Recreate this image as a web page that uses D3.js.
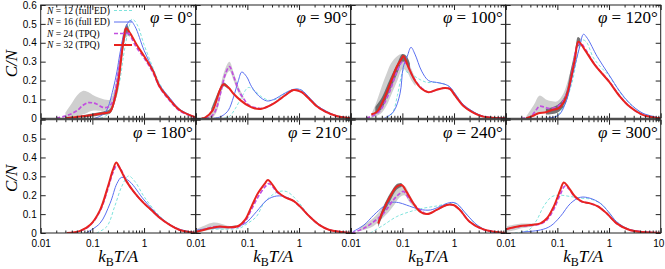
<!DOCTYPE html>
<html>
<head>
<meta charset="utf-8">
<script src="https://cdn.jsdelivr.net/npm/d3@7"></script>
<style>
    body { margin: 0; background: #fff; }
    svg { display: block; }
    .tick text { font-family: "Liberation Sans", Arial, sans-serif; font-size: 10px; fill: #000; }
    .tick line { stroke: #222; }
</style>
</head>
<body>
<div class="chart"></div>
<script>
// Data: one entry per panel (phi = 0, 90, 100, 120, 180, 210, 240, 300 deg).
// Curves are [T, C/N] pairs, bands are [T, low, high].
const phiLabels = ['0', '90', '100', '120', '180', '210', '240', '300'];
const xMajorTicks = [0.01, 0.1, 1, 10];
const yTickValues = [0, 0.1, 0.2, 0.3, 0.4, 0.5, 0.6];
const legendSizes = ['12', '16', '24', '32'];
const legendKinds = ['(full ED)', '(full ED)', '(TPQ)', '(TPQ)'];

const n12 = [
    [[0.14,0],[0.18,0.012],[0.22,0.035],[0.26,0.08],[0.3,0.13],[0.35,0.22],[0.4,0.33],[0.45,0.41],[0.5,0.47],[0.59,0.526],[0.74,0.495],[1,0.39],[1.5,0.265],[2,0.185],[3,0.108],[5,0.046],[10,0.005]],
    [[0.035,0],[0.045,0.01],[0.058,0.05],[0.078,0.113],[0.104,0.163],[0.14,0.145],[0.19,0.113],[0.27,0.095],[0.4,0.106],[0.54,0.134],[0.81,0.154],[1.1,0.15],[1.67,0.103],[2.2,0.069],[3.3,0.039],[5.5,0.012],[10,0.001]],
    [[0.05,0],[0.065,0.03],[0.08,0.12],[0.095,0.22],[0.105,0.256],[0.13,0.24],[0.16,0.228],[0.22,0.205],[0.3,0.19],[0.46,0.19],[0.67,0.18],[0.83,0.166],[1.05,0.13],[1.5,0.074],[2.3,0.037],[3.7,0.011],[10,0]],
    [[0.07,0],[0.1,0.015],[0.13,0.06],[0.19,0.184],[0.25,0.343],[0.3,0.415],[0.36,0.406],[0.5,0.32],[0.7,0.27],[1,0.225],[1.63,0.138],[2.5,0.078],[4.5,0.026],[10,0.001]],
    [[0.12,0],[0.19,0.034],[0.27,0.14],[0.37,0.246],[0.5,0.302],[0.67,0.272],[1,0.193],[2,0.09],[3.2,0.045],[4.9,0.018],[10,0]],
    [[0.01,0.01],[0.02,0.02],[0.04,0.02],[0.07,0.025],[0.1,0.05],[0.15,0.087],[0.2,0.15],[0.27,0.19],[0.4,0.219],[0.58,0.219],[0.9,0.175],[1.6,0.09],[2.5,0.045],[3.9,0.017],[10,0]],
    [[0.024,0],[0.043,0.042],[0.078,0.087],[0.14,0.113],[0.25,0.131],[0.46,0.143],[0.83,0.157],[1.1,0.155],[1.8,0.095],[2.8,0.042],[5,0.007],[10,0]],
    [[0.015,0],[0.028,0.016],[0.04,0.069],[0.054,0.14],[0.079,0.193],[0.115,0.2],[0.18,0.193],[0.3,0.184],[0.43,0.18],[0.68,0.157],[0.97,0.113],[1.4,0.06],[2.5,0.019],[10,0]]
];

const n16 = [
    [[0.11,0],[0.15,0.015],[0.19,0.044],[0.25,0.15],[0.3,0.25],[0.34,0.34],[0.43,0.47],[0.54,0.518],[0.67,0.486],[1,0.36],[1.5,0.256],[2,0.177],[3.2,0.106],[4.9,0.048],[10,0.005]],
    [[0.022,0],[0.028,0.005],[0.034,0.016],[0.043,0.043],[0.054,0.113],[0.067,0.2],[0.078,0.245],[0.097,0.22],[0.121,0.167],[0.168,0.117],[0.237,0.092],[0.32,0.099],[0.54,0.134],[0.81,0.154],[1.1,0.15],[1.67,0.103],[2.2,0.069],[3.3,0.039],[5.5,0.012],[10,0.001]],
    [[0.045,0],[0.067,0.034],[0.09,0.13],[0.104,0.27],[0.125,0.33],[0.147,0.376],[0.175,0.34],[0.236,0.25],[0.32,0.2],[0.46,0.19],[0.67,0.18],[0.83,0.166],[1.05,0.13],[1.5,0.074],[2.3,0.037],[3.7,0.011],[10,0]],
    [[0.06,0],[0.105,0.016],[0.15,0.095],[0.2,0.237],[0.27,0.378],[0.32,0.445],[0.38,0.424],[0.59,0.327],[1,0.23],[1.63,0.141],[2.5,0.08],[4.5,0.027],[10,0.001]],
    [[0.075,0],[0.14,0.051],[0.22,0.157],[0.3,0.263],[0.37,0.295],[0.53,0.272],[1,0.175],[2,0.087],[3.2,0.044],[4.9,0.02],[10,0]],
    [[0.01,0.015],[0.02,0.025],[0.035,0.03],[0.06,0.035],[0.09,0.05],[0.15,0.113],[0.24,0.175],[0.37,0.196],[0.58,0.189],[0.9,0.157],[1.6,0.088],[2.5,0.044],[3.9,0.016],[10,0]],
    [[0.011,0.007],[0.018,0.042],[0.028,0.095],[0.043,0.14],[0.058,0.161],[0.085,0.161],[0.12,0.148],[0.22,0.125],[0.35,0.122],[0.53,0.14],[0.83,0.161],[1.1,0.157],[1.8,0.095],[2.8,0.042],[5,0.007],[10,0]],
    [[0.02,0.005],[0.047,0.016],[0.074,0.037],[0.114,0.087],[0.18,0.157],[0.28,0.189],[0.43,0.184],[0.68,0.157],[0.97,0.113],[1.4,0.06],[2.5,0.019],[10,0]]
];

const n24 = [
    [[0.02,0],[0.03,0.012],[0.04,0.025],[0.05,0.04],[0.067,0.07],[0.084,0.083],[0.1,0.082],[0.12,0.076],[0.16,0.058],[0.2,0.06],[0.25,0.09],[0.3,0.2],[0.35,0.32],[0.4,0.42],[0.45,0.46],[0.52,0.445],[0.7,0.38],[1,0.32],[1.5,0.24],[2,0.165],[3,0.1],[5,0.038],[10,0.004]],
    [[0.015,0],[0.019,0.006],[0.0236,0.034],[0.0318,0.158],[0.037,0.23],[0.045,0.274],[0.054,0.223],[0.067,0.152],[0.084,0.105],[0.108,0.069],[0.15,0.055],[0.2,0.053],[0.32,0.078],[0.54,0.122],[0.78,0.15],[1.1,0.14],[1.67,0.096],[2.2,0.064],[3.3,0.034],[5.5,0.011],[10,0]],
    [[0.02,0],[0.03,0.02],[0.037,0.04],[0.045,0.08],[0.058,0.148],[0.078,0.245],[0.1,0.3],[0.12,0.29],[0.16,0.22],[0.236,0.16],[0.32,0.138],[0.46,0.151],[0.67,0.161],[0.83,0.156],[1.05,0.12],[1.5,0.067],[2.3,0.032],[3.7,0.009],[10,0]],
    [[0.02,0],[0.03,0.007],[0.038,0.04],[0.045,0.064],[0.055,0.06],[0.067,0.053],[0.089,0.057],[0.12,0.078],[0.16,0.148],[0.2,0.272],[0.24,0.38],[0.28,0.4],[0.34,0.37],[0.53,0.285],[1,0.196],[1.63,0.116],[2.5,0.062],[4.5,0.018],[10,0]],
    [[0.035,0],[0.058,0.01],[0.09,0.04],[0.14,0.115],[0.2,0.235],[0.25,0.32],[0.3,0.36],[0.35,0.34],[0.46,0.275],[0.67,0.21],[1,0.157],[1.5,0.113],[2,0.081],[3.2,0.042],[4.9,0.016],[10,0]],
    [[0.01,0.006],[0.015,0.02],[0.022,0.032],[0.03,0.033],[0.045,0.029],[0.067,0.033],[0.09,0.06],[0.12,0.125],[0.16,0.19],[0.22,0.245],[0.26,0.262],[0.31,0.245],[0.38,0.215],[0.54,0.189],[0.78,0.17],[1.05,0.14],[1.6,0.087],[2.5,0.042],[3.9,0.016],[10,0]],
    [[0.0105,0],[0.018,0.025],[0.028,0.06],[0.043,0.104],[0.067,0.175],[0.09,0.21],[0.105,0.22],[0.14,0.175],[0.22,0.122],[0.3,0.1],[0.46,0.122],[0.72,0.148],[0.97,0.148],[1.3,0.122],[2,0.06],[3.7,0.019],[10,0]],
    [[0.01,0.02],[0.019,0.035],[0.03,0.04],[0.047,0.048],[0.063,0.07],[0.085,0.125],[0.114,0.205],[0.14,0.248],[0.165,0.235],[0.22,0.19],[0.3,0.166],[0.43,0.157],[0.62,0.14],[0.9,0.104],[1.4,0.051],[2.5,0.016],[10,0]]
];

const n32 = [
    [[0.03,0],[0.04,0.004],[0.058,0.009],[0.1,0.018],[0.163,0.027],[0.22,0.035],[0.27,0.1],[0.32,0.2],[0.37,0.34],[0.41,0.43],[0.45,0.477],[0.54,0.45],[0.72,0.39],[1,0.33],[1.5,0.25],[2,0.168],[3,0.106],[4.9,0.044],[10,0.005]],
    [[0.013,0],[0.0152,0.004],[0.0213,0.042],[0.0296,0.152],[0.0343,0.18],[0.043,0.163],[0.054,0.13],[0.074,0.095],[0.108,0.064],[0.14,0.052],[0.19,0.051],[0.32,0.078],[0.54,0.122],[0.78,0.15],[1.1,0.14],[1.67,0.096],[2.2,0.064],[3.3,0.034],[5.5,0.011],[10,0]],
    [[0.025,0.02],[0.032,0.034],[0.043,0.096],[0.058,0.184],[0.078,0.273],[0.097,0.317],[0.105,0.33],[0.13,0.273],[0.175,0.2],[0.236,0.156],[0.32,0.138],[0.46,0.151],[0.67,0.161],[0.83,0.156],[1.05,0.12],[1.5,0.067],[2.3,0.032],[3.7,0.009],[10,0]],
    [[0.025,0],[0.035,0.015],[0.043,0.027],[0.06,0.032],[0.078,0.044],[0.105,0.053],[0.14,0.097],[0.175,0.185],[0.22,0.318],[0.255,0.406],[0.34,0.362],[0.53,0.283],[1,0.194],[1.63,0.115],[2.5,0.062],[4.5,0.018],[10,0]],
    [[0.032,0],[0.058,0.011],[0.09,0.042],[0.14,0.12],[0.2,0.246],[0.25,0.334],[0.29,0.373],[0.34,0.343],[0.46,0.272],[0.67,0.21],[1,0.157],[1.5,0.113],[2,0.081],[3.2,0.042],[4.9,0.016],[10,0]],
    [[0.01,0.005],[0.019,0.025],[0.029,0.034],[0.046,0.03],[0.067,0.037],[0.09,0.069],[0.12,0.14],[0.16,0.21],[0.22,0.263],[0.25,0.281],[0.31,0.254],[0.38,0.219],[0.54,0.189],[0.78,0.17],[1.05,0.14],[1.6,0.087],[2.5,0.042],[3.9,0.016],[10,0]],
    [[0.034,0.05],[0.043,0.122],[0.058,0.193],[0.078,0.246],[0.097,0.254],[0.12,0.219],[0.163,0.157],[0.22,0.113],[0.3,0.1],[0.46,0.122],[0.72,0.148],[0.97,0.148],[1.3,0.122],[2,0.06],[3.7,0.019],[10,0]],
    [[0.01,0.02],[0.019,0.037],[0.03,0.042],[0.047,0.051],[0.063,0.078],[0.085,0.14],[0.114,0.228],[0.133,0.267],[0.16,0.246],[0.22,0.193],[0.3,0.166],[0.43,0.157],[0.62,0.14],[0.9,0.104],[1.4,0.051],[2.5,0.016],[10,0]]
];

// error bands of the TPQ runs (light: N = 24, dark: N = 32)
const band24 = [
    [[0.03,0,0.03],[0.04,0.005,0.08],[0.05,0.01,0.12],[0.065,0.02,0.145],[0.08,0.03,0.14],[0.1,0.04,0.125],[0.13,0.04,0.11],[0.17,0.04,0.1],[0.22,0.05,0.1],[0.27,0.1,0.16],[0.32,0.2,0.29],[0.37,0.32,0.4],[0.42,0.42,0.48],[0.47,0.43,0.49]],
    [[0.015,0,0.01],[0.02,0,0.03],[0.025,0.03,0.07],[0.03,0.11,0.17],[0.037,0.21,0.26],[0.045,0.25,0.3],[0.054,0.2,0.245],[0.067,0.135,0.17],[0.084,0.095,0.115]],
    [[0.025,0,0.02],[0.03,0.01,0.07],[0.04,0.03,0.17],[0.05,0.07,0.24],[0.06,0.12,0.29],[0.08,0.2,0.33],[0.1,0.26,0.34],[0.12,0.25,0.32],[0.15,0.2,0.26],[0.18,0.17,0.21]],
    [[0.025,0,0.01],[0.035,0.01,0.07],[0.045,0.03,0.12],[0.06,0.03,0.1],[0.08,0.035,0.09],[0.1,0.04,0.09],[0.13,0.06,0.13],[0.16,0.11,0.2],[0.2,0.24,0.3]],
    [],
    [[0.01,0,0.02],[0.015,0.01,0.04],[0.022,0.02,0.055],[0.03,0.02,0.05],[0.04,0.02,0.04],[0.05,0.024,0.034]],
    [[0.015,0.01,0.03],[0.025,0.03,0.07],[0.035,0.06,0.11],[0.05,0.1,0.17],[0.07,0.15,0.22],[0.09,0.19,0.25],[0.11,0.2,0.25],[0.14,0.16,0.2],[0.18,0.13,0.15]],
    [[0.01,0.005,0.035],[0.015,0.015,0.045],[0.02,0.025,0.05],[0.03,0.032,0.05],[0.04,0.04,0.052]]
];

const band32 = [
    [[0.06,0.004,0.016],[0.1,0.01,0.026],[0.16,0.018,0.036],[0.22,0.025,0.05],[0.27,0.08,0.13],[0.32,0.17,0.24],[0.37,0.31,0.38],[0.42,0.41,0.47],[0.46,0.45,0.5],[0.52,0.43,0.47]],
    [[0.02,0.03,0.05],[0.03,0.14,0.165],[0.035,0.17,0.19],[0.043,0.155,0.17]],
    [[0.03,0.02,0.06],[0.04,0.05,0.11],[0.05,0.11,0.17],[0.06,0.16,0.22],[0.08,0.24,0.29],[0.1,0.3,0.34],[0.12,0.29,0.33],[0.14,0.25,0.29]],
    [[0.06,0.02,0.05],[0.1,0.03,0.07],[0.14,0.07,0.12],[0.18,0.18,0.25],[0.22,0.3,0.36],[0.25,0.38,0.43],[0.28,0.38,0.42]],
    [],
    [[0.045,0.026,0.036],[0.06,0.03,0.04]],
    [[0.034,0.03,0.065],[0.043,0.1,0.14],[0.058,0.17,0.21],[0.078,0.23,0.26],[0.097,0.245,0.265]],
    []
];

const series = [
    {data: n12, color: '#7fe3dc', width: 1, dash: '3,2'},
    {data: n16, color: '#5a6ff0', width: 1, dash: null},
    {data: n24, color: '#c24fe0', width: 1.7, dash: '4,2'},
    {data: n32, color: '#e8231f', width: 2, dash: null}
];

const svg = d3.select('.chart')
    .append('svg')
    .attr('width', 665)
    .attr('height', 269);

function baseDimension() {
    return {left: 40.7, panelWidth: 155, panelHeight: 113.3, rowTops: [5, 119.7]};
}

const area = baseDimension();

phiLabels.forEach((phi, i) => drawPanel(i, phi, area));
drawLegend(area);

function drawPanel(i, phi, area) {
    const col = i % 4;
    const row = Math.floor(i / 4);
    const x0 = area.left + col * area.panelWidth;
    const y0 = area.rowTops[row];

    const x = d3.scaleLog()
        .domain([0.01, 10])
        .range([x0, x0 + area.panelWidth]);
    const y = d3.scaleLinear()
        .domain([0, 0.6])
        .range([y0 + area.panelHeight, y0]);

    const g = svg.append('g');

    const clipId = 'clip' + i;
    g.append('clipPath').attr('id', clipId)
        .append('rect')
        .attr('x', x0).attr('y', y0)
        .attr('width', area.panelWidth).attr('height', area.panelHeight);

    const plot = g.append('g').attr('clip-path', `url(#${clipId})`);

    const smooth = d3.curveCatmullRom.alpha(0.5);

    const bandGen = d3.area()
        .x(d => x(d[0]))
        .y0(d => y(d[1]))
        .y1(d => y(d[2]))
        .curve(smooth);

    if (band24[i].length) {
        plot.append('path').attr('d', bandGen(band24[i]))
            .style('fill', '#cfcfcf');
    }
    if (band32[i].length) {
        plot.append('path').attr('d', bandGen(band32[i]))
            .style('fill', '#5c5c5c').style('opacity', 0.85);
    }

    const lineGen = d3.line()
        .x(d => x(d[0]))
        .y(d => y(Math.max(0, d[1])))
        .curve(smooth);

    series.forEach(s => {
        plot.append('path')
            .attr('d', lineGen(s.data[i]))
            .style('fill', 'none')
            .style('stroke', s.color)
            .style('stroke-width', s.width)
            .attr('stroke-dasharray', s.dash);
    });

    // axes, ticks pointing inward on all sides
    const minorTicks = [];
    [0.01, 0.1, 1].forEach(d => {
        for (let k = 2; k <= 9; k++) minorTicks.push(d * k);
    });

    const showLabelsX = row === 1;
    const bottom = g.append('g')
        .attr('transform', `translate(0, ${y0 + area.panelHeight})`)
        .call(d3.axisBottom(x)
            .tickValues(xMajorTicks)
            .tickSize(-5)
            .tickPadding(7)
            .tickFormat(d => {
                if (!showLabelsX) return '';
                if (d === 10) return col === 3 ? '10' : '';
                return d3.format('~g')(d);
            }));
    bottom.select('.domain').remove();
    // keep the last "10" inside the window
    bottom.selectAll('.tick text').filter(d => d === 10).attr('dx', -2.5);

    g.append('g')
        .attr('transform', `translate(0, ${y0 + area.panelHeight})`)
        .call(d3.axisBottom(x).tickValues(minorTicks).tickSize(-2.5).tickFormat(''))
        .select('.domain').remove();

    g.append('g')
        .attr('transform', `translate(0, ${y0})`)
        .call(d3.axisTop(x).tickValues(xMajorTicks).tickSize(-5).tickFormat(''))
        .select('.domain').remove();

    g.append('g')
        .attr('transform', `translate(0, ${y0})`)
        .call(d3.axisTop(x).tickValues(minorTicks).tickSize(-2.5).tickFormat(''))
        .select('.domain').remove();

    const left = g.append('g')
        .attr('transform', `translate(${x0}, 0)`)
        .call(d3.axisLeft(y)
            .tickValues(yTickValues)
            .tickSize(-5)
            .tickPadding(4)
            .tickFormat(d => {
                if (col !== 0) return '';
                if (row === 1 && d === 0.6) return '';
                return d3.format('~g')(d);
            }));
    left.select('.domain').remove();

    g.append('g')
        .attr('transform', `translate(${x0 + area.panelWidth}, 0)`)
        .call(d3.axisRight(y).tickValues(yTickValues).tickSize(-5).tickFormat(''))
        .select('.domain').remove();

    // frame
    g.append('rect')
        .attr('x', x0).attr('y', y0)
        .attr('width', area.panelWidth).attr('height', area.panelHeight)
        .style('fill', 'none')
        .style('stroke', '#222')
        .style('stroke-width', 1);

    // phi label
    const label = g.append('text')
        .attr('x', x0 + area.panelWidth - 3)
        .attr('y', y0 + 18)
        .attr('text-anchor', 'end')
        .style('font-family', '"Liberation Serif", "DejaVu Serif", serif')
        .style('font-size', '17px');
    label.append('tspan').style('font-style', 'italic').text('φ');
    label.append('tspan').text(` = ${phi}°`);

    // y title on first column
    if (col === 0) {
        const yc = y0 + area.panelHeight / 2 + 2;
        g.append('text')
            .attr('transform', `translate(17, ${yc}) rotate(-90)`)
            .attr('text-anchor', 'middle')
            .style('font-family', '"Liberation Serif", "DejaVu Serif", serif')
            .style('font-style', 'italic')
            .style('font-size', '17px')
            .text('C/N');
    }

    // x title on bottom row
    if (row === 1) {
        const t = g.append('text')
            .attr('x', x0 + area.panelWidth / 2)
            .attr('y', 262)
            .attr('text-anchor', 'middle')
            .style('font-family', '"Liberation Serif", "DejaVu Serif", serif')
            .style('font-size', '17px');
        t.append('tspan').style('font-style', 'italic').text('k');
        t.append('tspan').attr('dy', 4).style('font-size', '12px').text('B');
        t.append('tspan').attr('dy', -4).style('font-style', 'italic').text('T/A');
    }
}

function drawLegend(area) {
    const lg = svg.append('g').attr('class', 'legend');
    const rowY = [10.5, 22, 33.5, 45];
    series.forEach((s, k) => {
        const t = lg.append('text')
            .attr('x', 47)
            .attr('y', rowY[k] + 3)
            .style('font-family', '"Liberation Serif", "DejaVu Serif", serif')
            .style('font-size', '9.5px');
        t.append('tspan').style('font-style', 'italic').text('N');
        t.append('tspan').text(` = ${legendSizes[k]} ${legendKinds[k]}`);

        lg.append('line')
            .attr('x1', 114).attr('x2', 132)
            .attr('y1', rowY[k]).attr('y2', rowY[k])
            .style('stroke', s.color)
            .style('stroke-width', s.width)
            .attr('stroke-dasharray', s.dash);
    });
}
</script>
</body>
</html>
